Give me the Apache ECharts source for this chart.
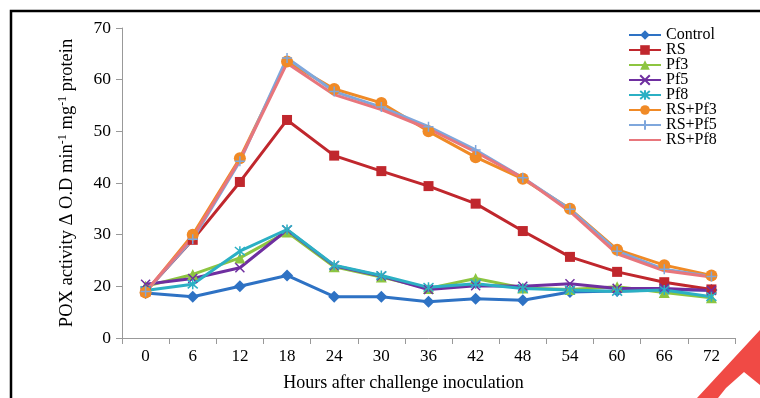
<!DOCTYPE html>
<html>
<head>
<meta charset="utf-8">
<script src="https://cdn.jsdelivr.net/npm/echarts@6/dist/echarts.min.js"></script>
<style>html,body{margin:0;padding:0;background:#fff;}#c{width:760px;height:398px;}</style>
</head>
<body>
<div id="c"></div>
<script>
var hours = ['0','6','12','18','24','30','36','42','48','54','60','66','72'];
var control = [18.7, 18.0, 20.0, 22.1, 18.0, 18.0, 17.0, 17.6, 17.3, 18.9, 19.1, 19.3, 19.3];
var rs      = [19.0, 29.0, 40.2, 52.2, 45.3, 42.3, 39.4, 36.0, 30.7, 25.7, 22.8, 20.8, 19.4];
var pf3     = [20.0, 22.3, 25.5, 30.5, 23.8, 21.8, 19.6, 21.5, 19.7, 19.4, 19.9, 18.8, 17.8];
var pf5     = [20.4, 21.5, 23.6, 30.9, 24.0, 22.0, 19.4, 20.1, 20.0, 20.5, 19.6, 19.6, 19.2];
var pf8     = [19.2, 20.4, 26.8, 31.0, 24.1, 22.1, 19.8, 20.5, 19.6, 19.3, 19.0, 19.3, 18.0];
var rsPf3   = [18.8, 30.0, 44.8, 63.5, 58.2, 55.5, 50.0, 45.0, 40.8, 35.0, 27.1, 24.1, 22.1];
var rsPf5   = [19.0, 29.1, 44.2, 64.2, 57.7, 54.7, 50.9, 46.4, 41.0, 34.9, 26.8, 23.3, 21.9];
var rsPf8   = [19.0, 29.5, 44.5, 63.2, 57.1, 54.2, 50.5, 46.0, 41.0, 34.5, 26.3, 23.0, 21.8];
var yTicks = [10, 20, 30, 40, 50, 60, 70];
var yTickLabels = ['0', '20', '30', '40', '50', '60', '70'];

var FONT = '"Liberation Serif", "DejaVu Serif", serif';
var X_PATH = 'path://M0,0L10,10M10,0L0,10';
var AST_PATH = 'path://M0,0L10,10M10,0L0,10M5,-1L5,11';
var PLUS_PATH = 'path://M5,0L5,10M0,5L10,5';

function mk(name, data, color, symbol, size, stroke) {
  return {
    name: name, type: 'line', data: data,
    symbol: symbol, symbolSize: size,
    lineStyle: { color: color, width: 3 },
    itemStyle: stroke ? { color: color, borderColor: color, borderWidth: 1.5 } : { color: color },
    emphasis: { disabled: true },
    z: 2
  };
}

var series = [
  mk('Control', control, '#2e72c4', 'diamond', 12),
  mk('RS', rs, '#c0272d', 'rect', 10),
  mk('Pf3', pf3, '#8dc540', 'triangle', 11),
  mk('Pf5', pf5, '#6f2fa0', X_PATH, 9, true),
  mk('Pf8', pf8, '#2bb0c4', AST_PATH, 10, true),
  mk('RS+Pf3', rsPf3, '#f08a26', 'circle', 12),
  mk('RS+Pf5', rsPf5, '#7fa7dc', PLUS_PATH, 10, true),
  mk('RS+Pf8', rsPf8, '#e8767c', 'circle', 1)
];
series[7].itemStyle = { color: '#e8767c', opacity: 0 };

var chart = echarts.init(document.getElementById('c'));
chart.setOption({
  animation: false,
  backgroundColor: '#fff',
  grid: { left: 122, right: 25, top: 28, bottom: 60 },
  legend: {
    orient: 'vertical', left: 623, top: 22,
    itemWidth: 32, itemHeight: 12, itemGap: -1,
    textStyle: { fontFamily: FONT, fontSize: 16, color: '#000', lineHeight: 15 },
    data: ['Control','RS','Pf3','Pf5','Pf8','RS+Pf3','RS+Pf5','RS+Pf8']
  },
  xAxis: {
    type: 'category', data: hours, boundaryGap: true,
    name: 'Hours after challenge inoculation', nameLocation: 'middle', nameGap: 36,
    nameTextStyle: { fontFamily: FONT, fontSize: 18, color: '#000', padding: [0, 50, 0, 0] },
    axisLine: { lineStyle: { color: '#999', width: 1 } },
    axisTick: { show: true, length: 6, lineStyle: { color: '#999' } },
    axisLabel: { fontFamily: FONT, fontSize: 17, color: '#000', margin: 10 }
  },
  yAxis: {
    type: 'value', min: 10, max: 70, interval: 10,
    name: 'POX activity \u0394 O.D min{s|-1} mg{s|-1} protein',
    nameLocation: 'middle', nameGap: 45, nameRotate: 90,
    nameTextStyle: { fontFamily: FONT, fontSize: 18.5, color: '#000',
      rich: { s: { fontFamily: FONT, fontSize: 12, color: '#000', verticalAlign: 'top', padding: [0,0,8,0] } } },
    axisLine: { show: true, lineStyle: { color: '#999', width: 1 } },
    axisTick: { show: true, length: 6, inside: false, lineStyle: { color: '#999' } },
    splitLine: { show: false },
    axisLabel: { fontFamily: FONT, fontSize: 17.5, color: '#000', margin: 11,
      formatter: function (v) { var i = yTicks.indexOf(v); return i >= 0 ? yTickLabels[i] : ''; } }
  },
  series: series,
  graphic: [
    { type: 'rect', shape: { x: 11, y: 11, width: 800, height: 420 },
      style: { fill: 'none', stroke: '#000', lineWidth: 2.5 }, silent: true, z: 10 },
    { type: 'polygon', shape: { points: [[697,398],[760,330],[760,385],[744,372],[726,388],[718,398]] },
      style: { fill: '#f04a45' }, silent: true, z: 10 }
  ]
});
</script>
</body>
</html>
